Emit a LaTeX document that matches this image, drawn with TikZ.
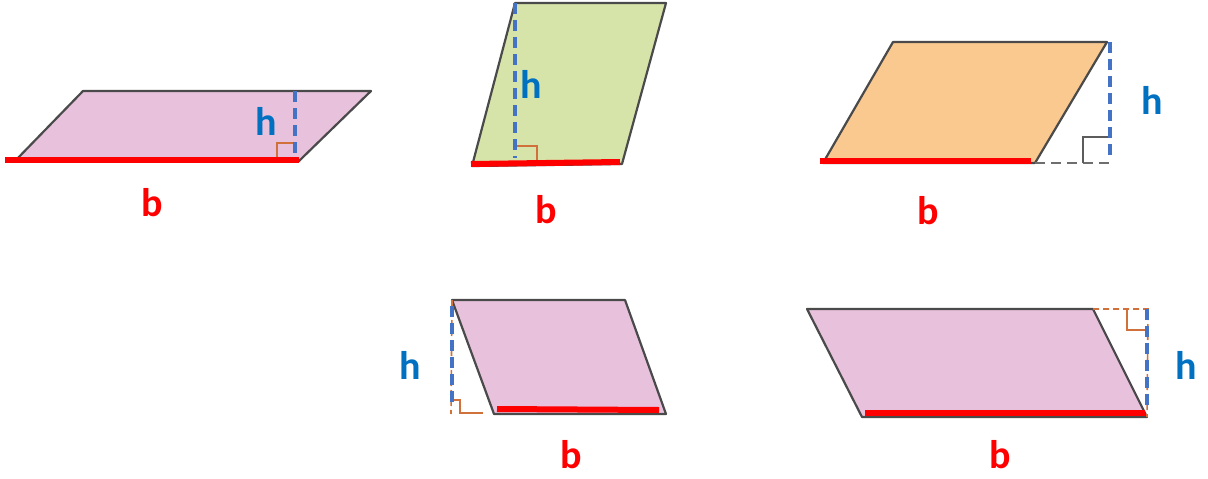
\documentclass[tikz,border=0pt]{standalone}
\usepackage{fontspec}
\setmainfont{Carlito}
\definecolor{pinkfill}{HTML}{E8C2DD}
\definecolor{greenfill}{HTML}{D7E4A9}
\definecolor{orangefill}{HTML}{F9C990}
\definecolor{edgegray}{HTML}{4A4A4A}
\definecolor{hblue}{HTML}{0070C0}
\definecolor{hdash}{HTML}{4472C4}
\definecolor{bred}{HTML}{FF0000}
\definecolor{ramark}{HTML}{D0703A}
\tikzset{
  shapeedge/.style={draw=edgegray, line width=2.2pt, line join=round},
  baseline/.style={draw=bred, line width=6pt},
  heightline/.style={draw=hdash, line width=3.4pt, dash pattern=on 11pt off 6pt},
  rightangle/.style={draw=ramark, line width=1.6pt},
  extline/.style={draw=ramark, line width=1.6pt, dash pattern=on 6pt off 4pt},
  hlabel/.style={text=hblue, inner sep=0pt, font=\bfseries\fontsize{40}{44}\selectfont},
  blabel/.style={text=bred, inner sep=0pt, font=\bfseries\fontsize{40}{44}\selectfont},
}
\begin{document}
\begin{tikzpicture}[x=1pt,y=-1pt]
\useasboundingbox (0,0) rectangle (1208,479);
% ---------- shape 1 ----------
\coordinate (a1) at (15,161); \coordinate (a2) at (299,161);
\coordinate (a3) at (371,91); \coordinate (a4) at (83,91);
\filldraw[shapeedge, fill=pinkfill] (a1) -- (a2) -- (a3) -- (a4) -- cycle;
\draw[rightangle] (277,161) -- (277,143) -- (295,143);
\coordinate (b1s) at (5,160); \coordinate (b1e) at (299,160);
\draw[baseline] (b1s) -- (b1e);
\coordinate (h1t) at (295,91); \coordinate (h1b) at (295,158);
\draw[heightline] (h1t) -- (h1b);
\node[hlabel] (h1) at (266,121) {h};
\node[blabel] (lb1) at (152,203) {b};
% ---------- shape 2 ----------
\coordinate (c1) at (472,166); \coordinate (c2) at (622,164);
\coordinate (c3) at (666,3); \coordinate (c4) at (515,3);
\filldraw[shapeedge, fill=greenfill] (c1) -- (c2) -- (c3) -- (c4) -- cycle;
\draw[rightangle] (515,146) -- (537,146) -- (537,164);
\coordinate (b2s) at (471,164); \coordinate (b2e) at (620,162);
\draw[baseline] (b2s) -- (b2e);
\coordinate (h2t) at (515,3); \coordinate (h2b) at (515,158);
\draw[heightline] (h2t) -- (h2b);
\node[hlabel] (h2) at (531,84) {h};
\node[blabel] (lb2) at (546,210) {b};
% ---------- shape 3 ----------
\coordinate (d1) at (823,163); \coordinate (d2) at (1035,163);
\coordinate (d3) at (1107,42); \coordinate (d4) at (893,42);
\filldraw[shapeedge, fill=orangefill] (d1) -- (d2) -- (d3) -- (d4) -- cycle;
\coordinate (d5) at (1110,163);
\draw[draw=edgegray!80, line width=1.8pt, dash pattern=on 10pt off 6pt] (d2) -- (d5);
\draw[draw=edgegray!90, line width=1.6pt] (1083,163) -- (1083,137) -- (1110,137);
\coordinate (b3s) at (820,161); \coordinate (b3e) at (1031,161);
\draw[baseline] (b3s) -- (b3e);
\coordinate (h3t) at (1110,42); \coordinate (h3b) at (1110,155);
\draw[heightline] (h3t) -- (h3b);
\node[hlabel] (h3) at (1152,100) {h};
\node[blabel] (lb3) at (928,211) {b};
% ---------- shape 4 ----------
\coordinate (e1) at (494,414); \coordinate (e2) at (666,414);
\coordinate (e3) at (625,300); \coordinate (e4) at (452,300);
\filldraw[shapeedge, fill=pinkfill] (e1) -- (e2) -- (e3) -- (e4) -- cycle;
\coordinate (e5) at (451,414);
\draw[extline] (e4) -- (e5);
\draw[rightangle] (451,400) -- (460,400) -- (460,413) -- (483,413);
\coordinate (b4s) at (497,409); \coordinate (b4e) at (659,410);
\draw[baseline] (b4s) -- (b4e);
\coordinate (h4t) at (452,306); \coordinate (h4b) at (452,408);
\draw[heightline] (h4t) -- (h4b);
\node[hlabel] (h4) at (410,365) {h};
\node[blabel] (lb4) at (571,455) {b};
% ---------- shape 5 ----------
\coordinate (f1) at (862,417); \coordinate (f2) at (1147,417);
\coordinate (f3) at (1093,309); \coordinate (f4) at (807,309);
\filldraw[shapeedge, fill=pinkfill] (f1) -- (f2) -- (f3) -- (f4) -- cycle;
\coordinate (f5) at (1148,309);
\draw[extline] (f3) -- (f5) -- (f2);
\draw[rightangle] (1127,309) -- (1127,330) -- (1147,330);
\coordinate (b5s) at (865,413); \coordinate (b5e) at (1145,413);
\draw[baseline] (b5s) -- (b5e);
\coordinate (h5t) at (1147,309); \coordinate (h5b) at (1147,411);
\draw[heightline] (h5t) -- (h5b);
\node[hlabel] (h5) at (1186,365) {h};
\node[blabel] (lb5) at (1000,455) {b};
\end{tikzpicture}
\end{document}
